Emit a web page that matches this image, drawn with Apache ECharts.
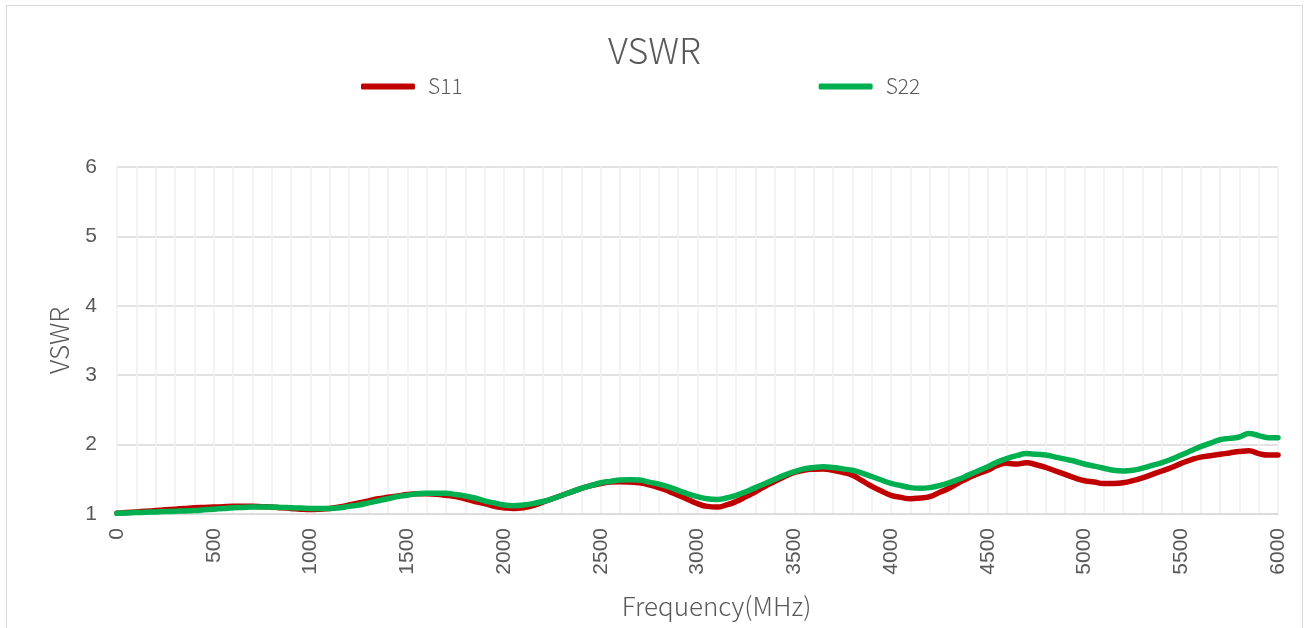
<!DOCTYPE html>
<html>
<head>
<meta charset="utf-8">
<script src="https://cdn.jsdelivr.net/npm/echarts@6/dist/echarts.min.js"></script>
<style>
  html, body { margin: 0; padding: 0; background: #fff; }
  #wrap { position: relative; width: 1309px; height: 628px; overflow: hidden; }
  #frame { position: absolute; left: 6px; top: 5px; width: 1297px; height: 640px; border: 1px solid #d9d9d9; box-sizing: border-box; }
  #chart { position: absolute; left: 0; top: 0; width: 1309px; height: 628px; }
</style>
</head>
<body>
<div id="wrap">
  <div id="frame"></div>
  <div id="chart"></div>
</div>
<script>
// 周波数 (MHz) と各ポートの VSWR
const freq = [
  0, 50, 100, 150, 200, 250, 300, 350, 400, 450,
  500, 550, 600, 650, 700, 750, 800, 850, 900, 950,
  1000, 1050, 1100, 1150, 1200, 1250, 1300, 1350, 1400, 1450,
  1500, 1550, 1600, 1650, 1700, 1750, 1800, 1850, 1900, 1950,
  2000, 2050, 2100, 2150, 2200, 2250, 2300, 2350, 2400, 2450,
  2500, 2550, 2600, 2650, 2700, 2750, 2800, 2850, 2900, 2950,
  3000, 3050, 3100, 3150, 3200, 3250, 3300, 3350, 3400, 3450,
  3500, 3550, 3600, 3650, 3700, 3750, 3800, 3850, 3900, 3950,
  4000, 4050, 4100, 4150, 4200, 4250, 4300, 4350, 4400, 4450,
  4500, 4550, 4600, 4650, 4700, 4750, 4800, 4850, 4900, 4950,
  5000, 5050, 5100, 5150, 5200, 5250, 5300, 5350, 5400, 5450,
  5500, 5550, 5600, 5650, 5700, 5750, 5800, 5850, 5900, 5950,
  6000
];
const s11 = [
  1.01, 1.02, 1.03, 1.04, 1.05, 1.06, 1.07, 1.08, 1.09, 1.095,
  1.10, 1.105, 1.11, 1.11, 1.11, 1.105, 1.10, 1.09, 1.08, 1.07,
  1.065, 1.07, 1.08, 1.10, 1.13, 1.16, 1.19, 1.22, 1.24, 1.26,
  1.28, 1.29, 1.29, 1.285, 1.27, 1.25, 1.22, 1.18, 1.15, 1.11,
  1.09, 1.08, 1.09, 1.12, 1.17, 1.22, 1.27, 1.32, 1.37, 1.41,
  1.44, 1.46, 1.465, 1.46, 1.45, 1.42, 1.38, 1.33, 1.27, 1.21,
  1.15, 1.11, 1.10, 1.13, 1.18, 1.25, 1.32, 1.40, 1.47, 1.54,
  1.60, 1.63, 1.645, 1.65, 1.63, 1.60, 1.56, 1.48, 1.40, 1.33,
  1.27, 1.24, 1.22, 1.23, 1.25, 1.31, 1.37, 1.45, 1.52, 1.58,
  1.63, 1.70, 1.73, 1.72, 1.74, 1.71, 1.67, 1.62, 1.57, 1.52,
  1.48, 1.46, 1.44, 1.44, 1.45, 1.48, 1.52, 1.57, 1.62, 1.67,
  1.73, 1.78, 1.82, 1.84, 1.86, 1.88, 1.90, 1.91, 1.87, 1.85,
  1.85
];
const s22 = [
  1.01, 1.015, 1.02, 1.025, 1.03, 1.035, 1.04, 1.045, 1.05, 1.06,
  1.07, 1.08, 1.09, 1.095, 1.10, 1.10, 1.10, 1.095, 1.09, 1.085,
  1.08, 1.08, 1.08, 1.09, 1.11, 1.13, 1.16, 1.19, 1.22, 1.25,
  1.27, 1.29, 1.30, 1.30, 1.30, 1.28, 1.26, 1.23, 1.19, 1.16,
  1.13, 1.12, 1.13, 1.15, 1.18, 1.22, 1.27, 1.32, 1.37, 1.41,
  1.45, 1.47, 1.49, 1.495, 1.49, 1.46, 1.43, 1.39, 1.34, 1.29,
  1.25, 1.22, 1.21, 1.23, 1.27, 1.32, 1.38, 1.44, 1.50, 1.56,
  1.61, 1.65, 1.67, 1.68, 1.67, 1.65, 1.63, 1.59, 1.54, 1.49,
  1.44, 1.41, 1.38, 1.37, 1.38, 1.41, 1.45, 1.50, 1.56, 1.62,
  1.68, 1.75, 1.80, 1.84, 1.87, 1.86, 1.85, 1.82, 1.79, 1.76,
  1.72, 1.69, 1.66, 1.63, 1.62, 1.63, 1.66, 1.70, 1.74, 1.79,
  1.85, 1.91, 1.97, 2.02, 2.07, 2.09, 2.11, 2.16, 2.13, 2.10,
  2.10
];

const INK = '#595959';
const TXT_FONT = '"Noto Sans CJK SC", "Noto Sans", sans-serif';
const NUM_FONT = '"Liberation Sans", Arial, sans-serif';

const chart = echarts.init(document.getElementById('chart'), null, { renderer: 'canvas' });

const pair = (ys) => freq.map((f, i) => [f, ys[i]]);

chart.setOption({
  animation: false,
  title: {
    text: 'VSWR',
    left: 'center',
    top: 27,
    textStyle: { color: INK, fontSize: 36, fontWeight: 300, fontFamily: TXT_FONT },
  },
  legend: {
    top: 71,
    left: 356,
    itemGap: 356,
    itemWidth: 54,
    itemHeight: 6,
    icon: 'roundRect',
    textStyle: { color: INK, fontSize: 21, fontWeight: 300, fontFamily: TXT_FONT, padding: [0, 0, 0, 8] },
    data: ['S11', 'S22'],
  },
  grid: { left: 117, right: 31, top: 167, bottom: 114 },
  xAxis: {
    type: 'value',
    min: 0,
    max: 6000,
    interval: 500,
    name: 'Frequency(MHz)',
    nameLocation: 'middle',
    nameGap: 79,
    nameTextStyle: { color: INK, fontSize: 26, fontWeight: 300, fontFamily: TXT_FONT, padding: [0, 0, 0, 38] },
    axisLine: { show: true, lineStyle: { color: '#d9d9d9', width: 1.5 } },
    axisTick: { show: false },
    axisLabel: {
      color: INK, fontSize: 21, fontFamily: NUM_FONT, rotate: 90, margin: 14,
      formatter: (v) => String(v),
    },
    splitLine: { show: true, lineStyle: { color: '#efefef', width: 1.5 } },
    minorTick: { show: false, splitNumber: 5 },
    minorSplitLine: { show: true, lineStyle: { color: '#efefef', width: 1.5 } },
  },
  yAxis: {
    type: 'value',
    min: 1,
    max: 6,
    interval: 1,
    name: 'VSWR',
    nameLocation: 'middle',
    nameGap: 45,
    nameTextStyle: { color: INK, fontSize: 26, fontWeight: 300, fontFamily: TXT_FONT },
    axisLine: { show: false },
    axisTick: { show: false },
    axisLabel: { color: INK, fontSize: 21, fontFamily: NUM_FONT, margin: 20 },
    splitLine: { lineStyle: { color: '#d9d9d9', width: 1.5 } },
  },
  series: [
    {
      name: 'S11',
      type: 'line',
      data: pair(s11),
      smooth: true,
      showSymbol: false,
      color: '#c00000',
      lineStyle: { width: 5.5, cap: 'round' },
    },
    {
      name: 'S22',
      type: 'line',
      data: pair(s22),
      smooth: true,
      showSymbol: false,
      color: '#00b050',
      lineStyle: { width: 5.5, cap: 'round' },
    },
  ],
});
</script>
</body>
</html>
